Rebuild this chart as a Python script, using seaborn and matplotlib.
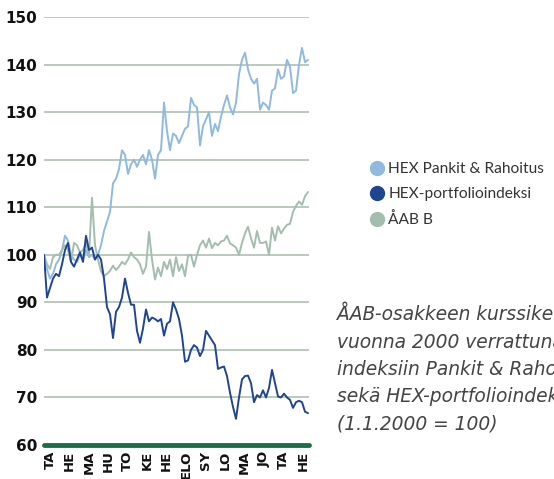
import numpy as np
import pandas as pd
import matplotlib
matplotlib.use("Agg")
import matplotlib.pyplot as plt
import seaborn as sns
from matplotlib.lines import Line2D

# ---- data (index value, 1.1.2000 = 100) ----
series_names = ["HEX Pankit & Rahoitus", "HEX-portfolioindeksi", "ÅAB B"]
pankit = [100, 97, 95, 96, 98, 99, 101, 104, 103, 100, 99, 98.5, 100, 99, 101, 99.5,
          100, 99, 100, 102, 105, 107, 109, 115, 116, 118, 122, 121, 117, 119, 120, 118.5,
          120, 121, 119, 122, 120, 116, 121, 122, 132, 126, 122, 125.5, 125, 123.5, 125,
          126.5, 127, 133, 131.5, 131, 123, 127, 128.5, 130, 125, 127.5, 126, 129, 131.5,
          133.5, 131, 129.5, 132, 138, 141, 142.5, 139, 137, 136, 137, 130.5, 132, 131.5,
          130.5, 134.5, 135, 139, 137, 137.5, 141, 139.5, 134, 134.5, 140, 143.5, 140.5, 141]
portfolio = [100, 91, 93, 95, 96, 95.5, 98, 101, 102.5, 98.5, 97.5, 99, 100.5, 98.5, 104,
             101, 101.5, 99, 100, 99, 95, 89, 87.5, 82.5, 88, 89, 91, 95, 92, 89.5, 89.5,
             84, 81.5, 84.5, 88.5, 86, 86.8, 86.5, 86, 86.5, 83, 85.5, 86, 90, 88.5, 86.5,
             83, 77.5, 77.8, 80, 81, 80.5, 78.7, 80, 84, 83, 82, 81, 76, 76.3, 76.5, 74.5,
             71, 68, 65.5, 70, 73.8, 74.5, 74.6, 73, 69, 70.5, 70, 71.5, 70, 72, 75.8, 73,
             70.2, 70, 70.8, 70, 69.5, 67.8, 69, 69.3, 69, 67, 66.7]
aab = [100, 98, 97, 99.5, 100, 100, 101, 102, 101, 98.5, 102.5, 102, 100.5, 101, 102.5,
       100, 112, 102, 99, 96.5, 95.5, 96, 96.6, 97.7, 96.8, 97.5, 98.5, 98, 99, 100.5,
       99.5, 99, 98, 96, 97.5, 104.8, 99, 94.8, 97.3, 95.5, 98.5, 97, 99, 95.5, 99.5,
       96.6, 98, 95.5, 99.8, 100, 97.5, 100, 102, 103, 101.5, 103.4, 101.4, 102.5, 102,
       102.8, 103, 104, 102.4, 102, 101.5, 100, 102.5, 104.5, 105.9, 103.5, 101.5, 105,
       102.5, 102.5, 102.8, 100, 105.7, 103, 106, 104.5, 105.5, 106.3, 106.5, 109, 110.3,
       111.2, 110.5, 112.3, 113.2]
month_labels = ["TA", "HE", "MA", "HU", "TO", "KE", "HE", "ELO", "SY", "LO", "MA", "JO", "TA", "HE"]
y_ticks = [60, 70, 80, 90, 100, 110, 120, 130, 140, 150]
caption_lines = ["ÅAB-osakkeen kurssikehitys",
                 "vuonna 2000 verrattuna",
                 "indeksiin Pankit & Rahoitus",
                 "sekä HEX-portfolioindeksiin",
                 "(1.1.2000 = 100)"]

colors = {"HEX Pankit & Rahoitus": "#8fb9de",
          "HEX-portfolioindeksi": "#1f4591",
          "ÅAB B": "#a3bdae"}

frames = []
for name, vals in zip(series_names, [pankit, portfolio, aab]):
    frames.append(pd.DataFrame({"t": np.arange(len(vals)), "value": vals, "series": name}))
df = pd.concat(frames, ignore_index=True)

sns.set_theme(style="white")
plt.rcParams["font.family"] = ["DejaVu Sans"]

fig = plt.figure(figsize=(5.54, 4.79), dpi=100)
ax = fig.add_axes([44 / 554, 1 - 445 / 479, 265 / 554, 428 / 479])

# gridlines
for v in y_ticks[1:]:
    ax.axhline(v, color="#b9cabd", lw=1.4, zorder=0)
ax.axhline(60, color="#18704a", lw=3.5, zorder=5, clip_on=False)

draw_order = ["HEX Pankit & Rahoitus", "ÅAB B", "HEX-portfolioindeksi"]
for name in draw_order:
    sub = df[df["series"] == name]
    sns.lineplot(data=sub, x="t", y="value", ax=ax, color=colors[name], lw=1.4,
                 legend=False, zorder=3)

ax.set_xlim(0, 88.33)
ax.set_ylim(60, 150)
ax.set_xlabel("")
ax.set_ylabel("")
for s in ax.spines.values():
    s.set_visible(False)

ax.set_yticks(y_ticks)
ax.set_yticklabels([str(v) for v in y_ticks], fontsize=11, fontweight="bold", color="#111111")
ax.tick_params(axis="y", length=0, pad=5)

tick_pos = np.linspace(2, 86.3, len(month_labels))
ax.set_xticks(tick_pos)
ax.set_xticklabels(month_labels, rotation=90, fontsize=9.5, fontweight="bold",
                   color="#111111", va="top", ha="center")
ax.tick_params(axis="x", length=0, pad=4)

handles = [Line2D([0], [0], marker="o", linestyle="", markersize=10,
                  markerfacecolor=colors[n], markeredgecolor=colors[n]) for n in series_names]
fig.legend(handles, series_names, loc="upper left", bbox_to_anchor=(347 / 554, 1 - 148 / 479),
           frameon=False, handletextpad=-0.25, labelspacing=0.72,
           prop={"family": "Lato", "size": 11.2}, labelcolor="#333333")

for i, line in enumerate(caption_lines):
    fig.text(337 / 554, 1 - (320 + 27.5 * i) / 479, line, fontsize=13.4,
             family="DejaVu Sans", style="italic", color="#444444",
             va="baseline", ha="left")

fig.savefig("out.png", dpi=100)
